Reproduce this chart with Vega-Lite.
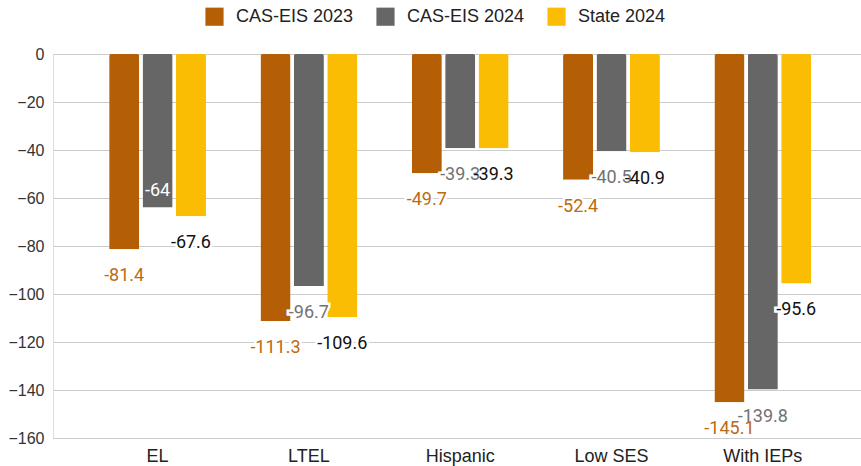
{
  "$schema": "https://vega.github.io/schema/vega-lite/v6.json",
  "width": 808,
  "height": 384,
  "autosize": {"type": "none"},
  "padding": {"left": 53, "top": 54, "right": 0, "bottom": 28},
  "background": "white",
  "data": {
    "values": [
      {"category": "EL", "series": "CAS-EIS 2023", "value": -81.4},
      {"category": "EL", "series": "CAS-EIS 2024", "value": -64},
      {"category": "EL", "series": "State 2024", "value": -67.6},
      {"category": "LTEL", "series": "CAS-EIS 2023", "value": -111.3},
      {"category": "LTEL", "series": "CAS-EIS 2024", "value": -96.7},
      {"category": "LTEL", "series": "State 2024", "value": -109.6},
      {"category": "Hispanic", "series": "CAS-EIS 2023", "value": -49.7},
      {"category": "Hispanic", "series": "CAS-EIS 2024", "value": -39.3},
      {"category": "Hispanic", "series": "State 2024", "value": -39.3},
      {"category": "Low SES", "series": "CAS-EIS 2023", "value": -52.4},
      {"category": "Low SES", "series": "CAS-EIS 2024", "value": -40.5},
      {"category": "Low SES", "series": "State 2024", "value": -40.9},
      {"category": "With IEPs", "series": "CAS-EIS 2023", "value": -145.1},
      {"category": "With IEPs", "series": "CAS-EIS 2024", "value": -139.8},
      {"category": "With IEPs", "series": "State 2024", "value": -95.6}
    ]
  },
  "encoding": {
    "x": {
      "field": "category", "type": "nominal", "sort": null,
      "scale": {"paddingInner": 0.36, "paddingOuter": 0.35, "align": 0.53},
      "axis": {"title": null, "domain": false, "ticks": false, "labelAngle": 0, "labelFont": "Liberation Sans", "labelFontSize": 18, "labelColor": "#222222", "labelPadding": 9}
    },
    "xOffset": {"field": "series", "type": "nominal", "sort": null, "scale": {"paddingInner": 0.1, "paddingOuter": 0}},
    "y": {
      "field": "value", "type": "quantitative",
      "scale": {"domain": [-160, 0], "nice": false, "zero": false},
      "axis": {"title": null, "domain": false, "ticks": false, "values": [0, -20, -40, -60, -80, -100, -120, -140, -160], "gridColor": "#cccccc", "labelFont": "Liberation Sans", "labelFontSize": 16, "labelColor": "#333333", "labelPadding": 9}
    }
  },
  "layer": [
    {
      "mark": {"type": "bar", "cornerRadiusEnd": 2},
      "encoding": {
        "color": {
          "field": "series", "type": "nominal", "sort": null,
          "scale": {"domain": ["CAS-EIS 2023", "CAS-EIS 2024", "State 2024"], "range": ["#b45f06", "#666666", "#fbbc04"]},
          "legend": {"title": null, "orient": "none", "direction": "horizontal", "legendX": 152, "legendY": -47, "symbolType": "square", "symbolSize": 330, "symbolStrokeWidth": 0, "symbolOpacity": 1, "labelFont": "Liberation Sans", "labelFontSize": 18, "labelColor": "#222222", "labelOffset": 12, "columnPadding": 22}
        }
      }
    },
    {
      "data": {"values": [{"z": 0}]},
      "mark": {"type": "rule", "color": "#333333", "strokeWidth": 1},
      "encoding": {"y": {"datum": 0}, "x": {"value": 0}, "x2": {"value": 808}, "xOffset": null}
    },
    {
      "transform": [{"filter": "!(datum.category === 'EL' && datum.series === 'CAS-EIS 2024')"}],
      "mark": {"type": "text", "font": "Roboto", "fontSize": 18, "baseline": "middle", "align": "center", "stroke": "white", "strokeWidth": 5, "fill": "white", "yOffset": 27},
      "encoding": {
        "text": {"field": "value", "type": "nominal"}
      }
    },
    {
      "transform": [{"filter": "!(datum.category === 'EL' && datum.series === 'CAS-EIS 2024')"}],
      "mark": {"type": "text", "font": "Roboto", "fontSize": 18, "baseline": "middle", "align": "center", "yOffset": 27},
      "encoding": {
        "text": {"field": "value", "type": "nominal"},
        "fill": {"condition": [
          {"test": "datum.series === 'CAS-EIS 2023'", "value": "#bd6a12"},
          {"test": "datum.series === 'CAS-EIS 2024'", "value": "#727272"}
        ], "value": "#111111"}
      }
    },
    {
      "transform": [{"filter": "datum.category === 'EL' && datum.series === 'CAS-EIS 2024'"}],
      "mark": {"type": "text", "font": "Roboto", "fontSize": 18, "baseline": "middle", "align": "center", "yOffset": -17, "fill": "#ffffff"},
      "encoding": {
        "text": {"field": "value", "type": "nominal"}
      }
    }
  ]
}
